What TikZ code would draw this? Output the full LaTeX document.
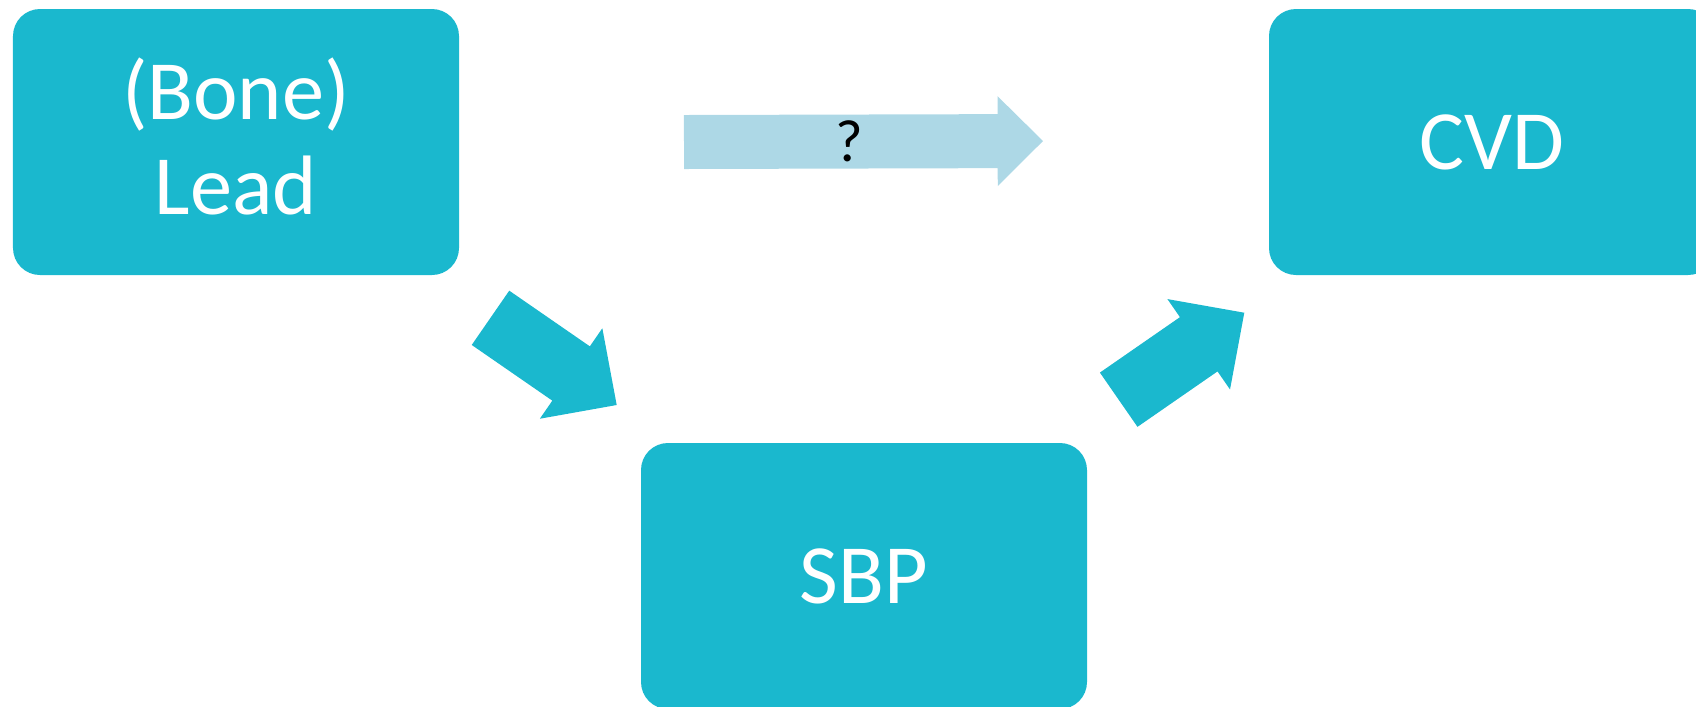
\documentclass[tikz,border=0pt]{standalone}
\usepackage{fontspec}
\setmainfont{Carlito}
\usepackage{tikz}
\usetikzlibrary{calc,positioning}
\definecolor{boxblue}{RGB}{26,184,206}
\definecolor{paleblue}{RGB}{173,216,230}
\tikzstyle{box} = [fill=boxblue, rectangle, rounded corners=0.27cm, minimum width=4.46cm, minimum height=2.66cm, text=white, align=center, font=\fontsize{24}{27}\selectfont]
\tikzstyle{qmark} = [text=black, font=\fontsize{17}{20}\selectfont]
% block arrow: colour, tail, tip, shaft width
\newcommand{\blockarrow}[4]{%
  \coordinate (#2-h) at ($(#3)!{0.84*#4}!(#2)$);
  \fill[#1] ($(#2)!{0.5*#4}!90:(#3)$) -- ($(#2-h)!{0.5*#4}!90:(#3)$)
    -- ($(#2-h)!{0.833*#4}!90:(#3)$) -- (#3)
    -- ($(#2-h)!{0.833*#4}!-90:(#3)$) -- ($(#2-h)!{0.5*#4}!-90:(#3)$)
    -- ($(#2)!{0.5*#4}!-90:(#3)$) -- cycle;}

\begin{document}
\begin{tikzpicture}[node distance=2cm]

\useasboundingbox (0,0) rectangle (16.96,-7.06);

\node [box, text depth=0.12cm] (lead) at (2.36,-1.42) {(Bone)\\Lead};
\node [box, right of=lead, node distance=12.56cm] (cvd) {CVD};
\node [box, below of=lead, node distance=4.34cm, xshift=6.28cm] (sbp) {SBP};

\coordinate (a1s) at (4.905,-3.178);
\coordinate (a1e) at (6.167,-4.05);
\coordinate (a2s) at (11.187,-3.997);
\coordinate (a2e) at (12.443,-3.127);
\coordinate (a3s) at (6.84,-1.42);
\coordinate (a3e) at (10.43,-1.41);

\blockarrow{boxblue}{a1s}{a1e}{0.66cm}
\blockarrow{boxblue}{a2s}{a2e}{0.66cm}
\blockarrow{paleblue}{a3s}{a3e}{0.54cm}

\node [qmark] (q) at ($(a3s)!0.46!(a3e)$) {?};

\end{tikzpicture}
\end{document}
